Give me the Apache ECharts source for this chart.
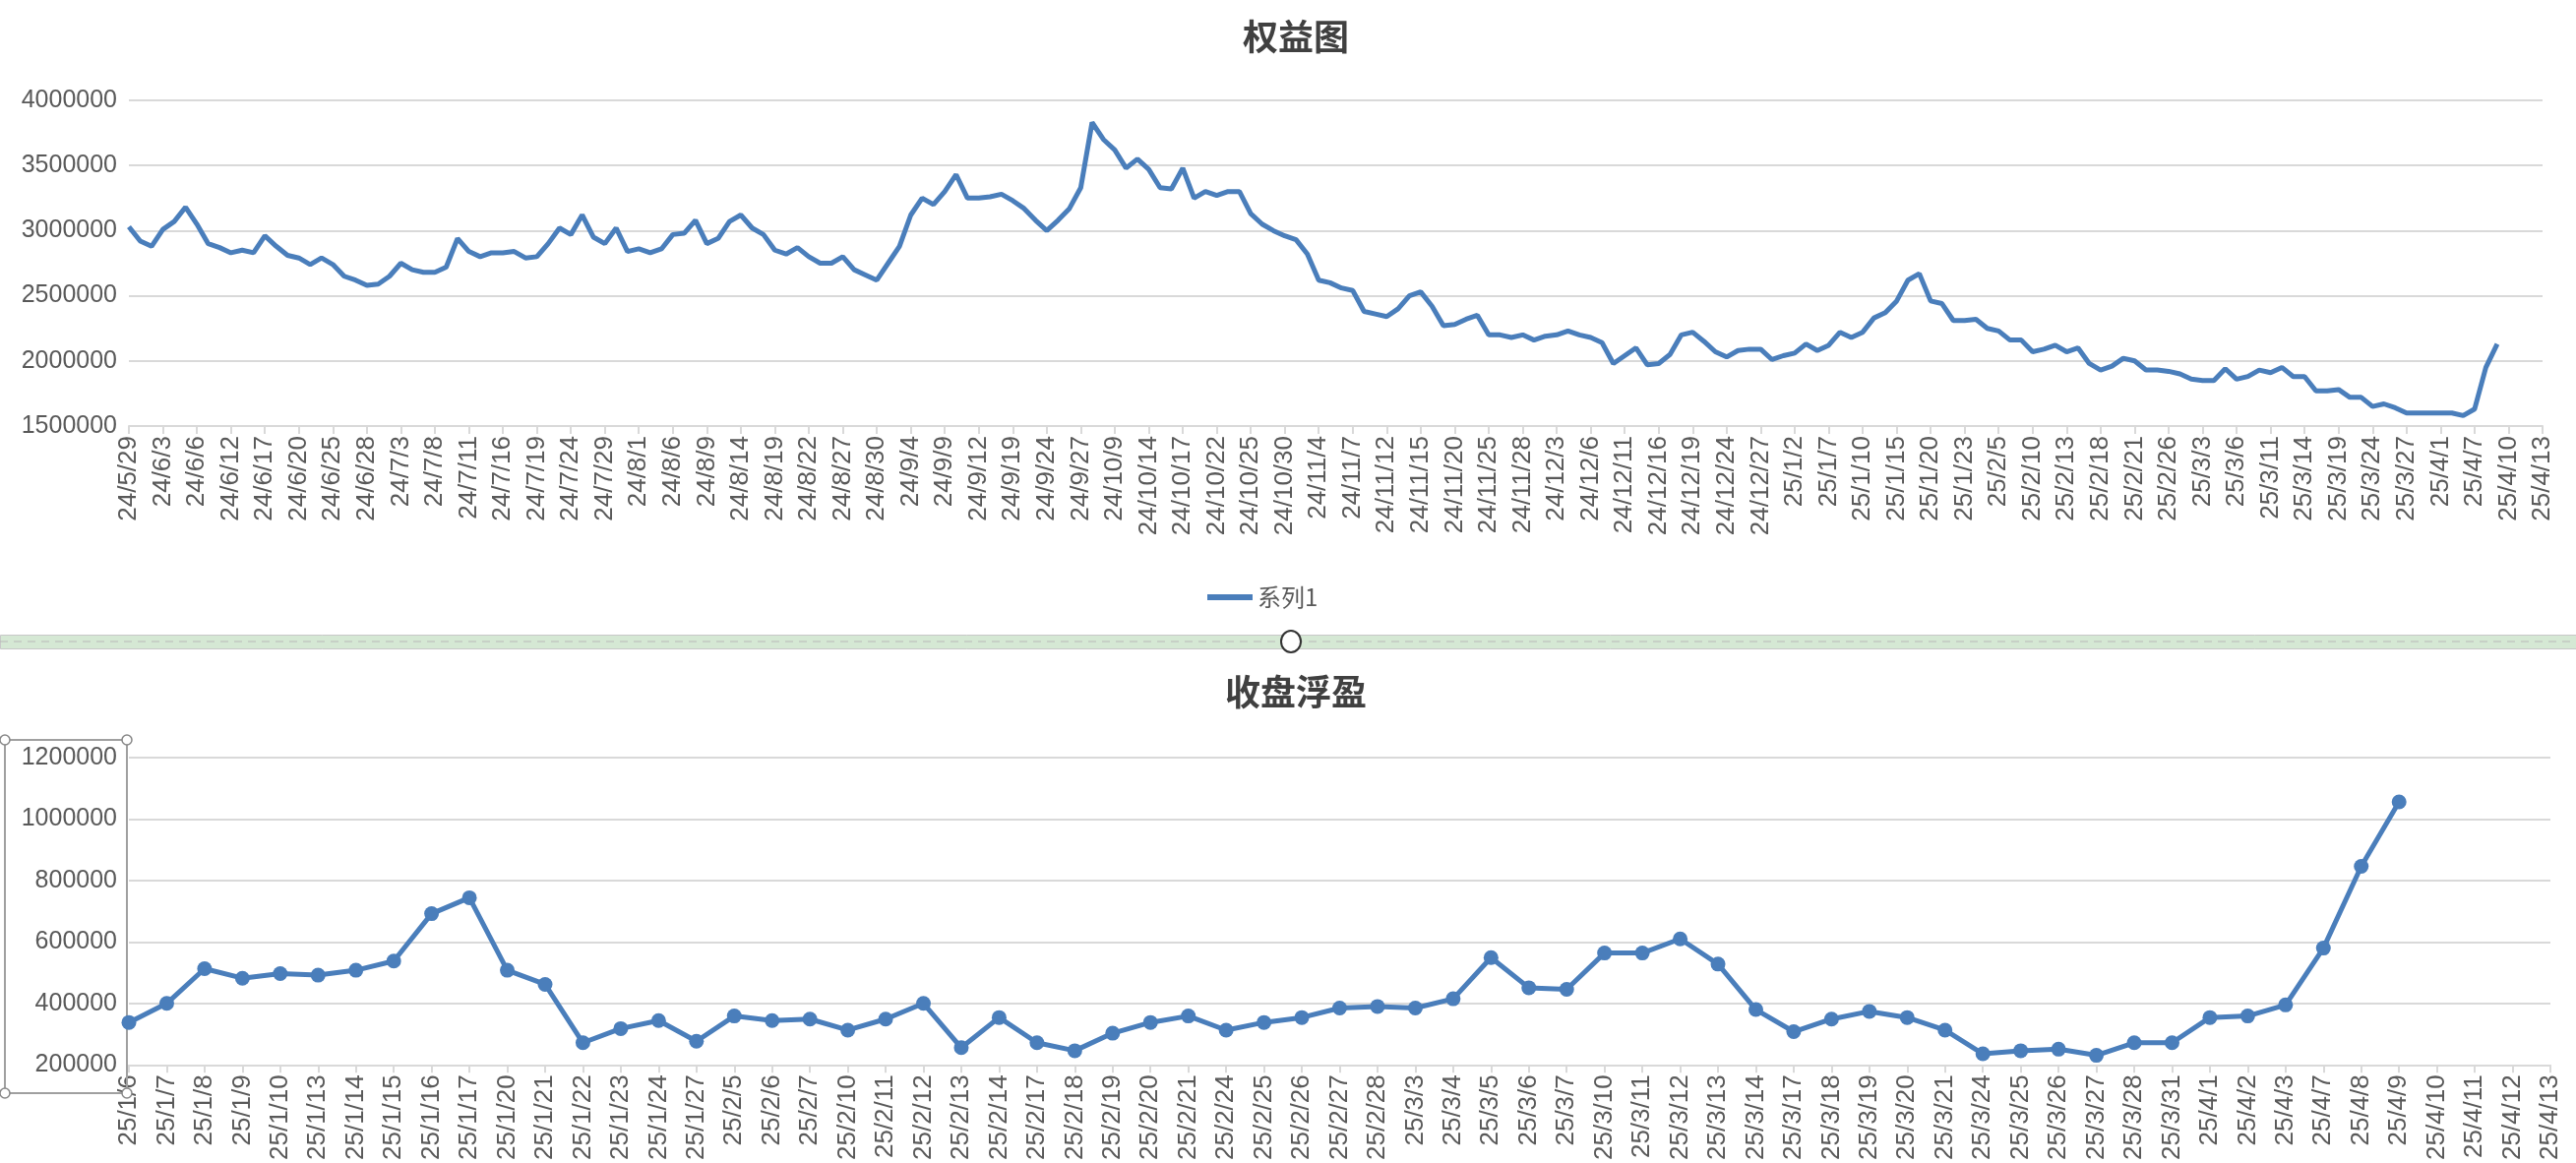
<!DOCTYPE html>
<html><head><meta charset="utf-8">
<script src="https://cdn.jsdelivr.net/npm/echarts@6/dist/echarts.min.js"></script>
<style>html,body{margin:0;padding:0;background:#fff}#c{width:2618px;height:1182px}</style>
</head><body><div id="c"></div>
<script>
// Top chart categories: trading days 2024-05-29 .. 2025-04-09, then calendar days to 04-13
const holidays = ['2024-06-10','2024-09-16','2024-09-17','2024-10-01','2024-10-02','2024-10-03','2024-10-04','2024-10-07','2025-01-01','2025-01-28','2025-01-29','2025-01-30','2025-01-31','2025-02-03','2025-02-04','2025-04-04'];
const extraDays = ['25/4/10','25/4/11','25/4/12','25/4/13'];
function tradingDays(start, end){
  const out=[]; const d=new Date(start+'T00:00:00Z'); const e=new Date(end+'T00:00:00Z');
  while(d<=e){
    const iso=d.toISOString().slice(0,10); const wd=d.getUTCDay();
    if(wd!==0&&wd!==6&&holidays.indexOf(iso)<0){
      out.push(String(d.getUTCFullYear()).slice(2)+'/'+(d.getUTCMonth()+1)+'/'+d.getUTCDate());
    }
    d.setUTCDate(d.getUTCDate()+1);
  }
  return out;
}
const equityDates = tradingDays('2024-05-29','2025-04-09').concat(extraDays);
const equityValues = [
3030000,2920000,2880000, 3010000,3070000,3180000, 3050000,2900000,2870000, 2830000,2850000,2830000,
2960000,2880000,2810000, 2790000,2740000,2790000, 2740000,2650000,2620000, 2580000,2590000,2650000,
2750000,2700000,2680000, 2680000,2720000,2940000, 2840000,2800000,2830000, 2830000,2840000,2790000,
2800000,2900000,3020000, 2970000,3120000,2950000, 2900000,3020000,2840000, 2860000,2830000,2860000,
2970000,2980000,3080000, 2900000,2940000,3070000, 3120000,3020000,2970000, 2850000,2820000,2870000,
2800000,2750000,2750000, 2800000,2700000,2660000, 2620000,2750000,2880000, 3120000,3250000,3200000,
3300000,3430000,3250000, 3250000,3260000,3280000, 3230000,3170000,3080000, 3000000,3080000,3170000,
3330000,3830000,3700000, 3620000,3480000,3550000, 3470000,3330000,3320000, 3480000,3250000,3300000,
3270000,3300000,3300000, 3130000,3050000,3000000, 2960000,2930000,2820000, 2620000,2600000,2560000,
2540000,2380000,2360000, 2340000,2400000,2500000, 2530000,2420000,2270000, 2280000,2320000,2350000,
2200000,2200000,2180000, 2200000,2160000,2190000, 2200000,2230000,2200000, 2180000,2140000,1980000,
2040000,2100000,1970000, 1980000,2050000,2200000, 2220000,2150000,2070000, 2030000,2080000,2090000,
2090000,2010000,2040000, 2060000,2130000,2080000, 2120000,2220000,2180000, 2220000,2330000,2370000,
2460000,2620000,2670000, 2460000,2440000,2310000, 2310000,2320000,2250000, 2230000,2160000,2160000,
2070000,2090000,2120000, 2070000,2100000,1980000, 1930000,1960000,2020000, 2000000,1930000,1930000,
1920000,1900000,1860000, 1850000,1850000,1940000, 1860000,1880000,1930000, 1910000,1950000,1880000,
1880000,1770000,1770000, 1780000,1720000,1720000, 1650000,1670000,1640000, 1600000,1600000,1600000,
1600000,1600000,1580000, 1630000,1950000,2130000];
const pnlDates = ['25/1/6','25/1/7','25/1/8','25/1/9','25/1/10','25/1/13','25/1/14','25/1/15','25/1/16','25/1/17','25/1/20','25/1/21','25/1/22','25/1/23','25/1/24','25/1/27','25/2/5','25/2/6','25/2/7','25/2/10','25/2/11','25/2/12','25/2/13','25/2/14','25/2/17','25/2/18','25/2/19','25/2/20','25/2/21','25/2/24','25/2/25','25/2/26','25/2/27','25/2/28','25/3/3','25/3/4','25/3/5','25/3/6','25/3/7','25/3/10','25/3/11','25/3/12','25/3/13','25/3/14','25/3/17','25/3/18','25/3/19','25/3/20','25/3/21','25/3/24','25/3/25','25/3/26','25/3/27','25/3/28','25/3/31','25/4/1','25/4/2','25/4/3','25/4/7','25/4/8','25/4/9','25/4/10','25/4/11','25/4/12','25/4/13'];
const pnlValues = [338000,400000,513000,482000,497000,492000,508000,538000,692000,744000,508000,462000,272000,318000,344000,277000,359000,344000,349000,313000,349000,400000,256000,354000,272000,246000,303000,338000,359000,313000,338000,354000,385000,390000,385000,415000,549000,451000,446000,564000,564000,610000,528000,380000,308000,349000,374000,354000,313000,236000,246000,251000,231000,272000,272000,354000,359000,395000,580000,846000,1056000];
const topTicks = {min:1500000,max:4000000,interval:500000};
const botTicks = {min:200000,max:1200000,interval:200000};

const chart = echarts.init(document.getElementById('c'));
const blue = '#4a7ebb';
const lab = {color:'#595959',fontSize:26,fontFamily:'Liberation Sans'};
const xCommon = {type:'category',boundaryGap:false,
  axisLine:{lineStyle:{color:'#d9d9d9',width:2}},
  axisTick:{show:true,lineStyle:{color:'#d9d9d9',width:2},length:8},
  axisLabel:Object.assign({rotate:90,margin:10},lab)};
const yCommon = {type:'value',axisLine:{show:false},axisTick:{show:false},
  splitLine:{lineStyle:{color:'#d9d9d9',width:2}},
  axisLabel:Object.assign({margin:12,formatter:function(v){return String(v);}},lab,{fontSize:25})};
chart.setOption({
  animation:false,
  backgroundColor:'#fff',
  title:[
    {text:'权益图',left:1312,top:14,textAlign:'center',textStyle:{fontSize:36,fontWeight:'bold',color:'#404040',fontFamily:'Noto Sans CJK SC'}},
    {text:'收盘浮盈',left:1312,top:680,textAlign:'center',textStyle:{fontSize:36,fontWeight:'bold',color:'#404040',fontFamily:'Noto Sans CJK SC'}}
  ],
  legend:{data:['系列1'],left:1312-90,top:590,icon:'rect',itemWidth:46,itemHeight:6,itemGap:10,
    textStyle:{color:'#595959',fontSize:24,fontFamily:'Noto Sans CJK SC'}},
  grid:[
    {left:131,right:34,top:102,height:331},
    {left:131,right:26,top:770,height:327}
  ],
  xAxis:[
    Object.assign({gridIndex:0,data:equityDates},xCommon,{axisLabel:Object.assign({},xCommon.axisLabel,{interval:2}),axisTick:Object.assign({},xCommon.axisTick,{interval:2})}),
    Object.assign({gridIndex:1,data:pnlDates},xCommon,{axisLabel:Object.assign({},xCommon.axisLabel,{interval:0}),axisTick:Object.assign({},xCommon.axisTick,{interval:0})})
  ],
  yAxis:[
    Object.assign({gridIndex:0},yCommon,topTicks),
    Object.assign({gridIndex:1},yCommon,botTicks)
  ],
  series:[
    {name:'系列1',type:'line',xAxisIndex:0,yAxisIndex:0,data:equityValues,showSymbol:false,symbol:'none',
      lineStyle:{color:blue,width:5},itemStyle:{color:blue}},
    {name:'收盘浮盈',type:'line',xAxisIndex:1,yAxisIndex:1,data:pnlValues,symbol:'circle',symbolSize:15,
      lineStyle:{color:blue,width:5},itemStyle:{color:blue}}
  ],
  graphic:[
    {type:'rect',left:0,top:645,shape:{width:2618,height:14},style:{fill:'#d5e8d4',stroke:'#c8c8c8',lineWidth:1},z:1},
    {type:'line',shape:{x1:0,y1:652,x2:2618,y2:652},style:{stroke:'#b8b8b8',lineWidth:1,lineDash:[8,6]},z:2},
    {type:'ellipse',shape:{cx:1312,cy:652,rx:10,ry:11},style:{fill:'#fff',stroke:'#333',lineWidth:2},z:3},
    {type:'rect',shape:{x:5,y:752,width:124,height:359},style:{fill:'none',stroke:'#a0a0a0',lineWidth:2},z:3},
    {type:'circle',shape:{cx:5,cy:752,r:5},style:{fill:'#fff',stroke:'#888',lineWidth:1.5},z:4},
    {type:'circle',shape:{cx:129,cy:752,r:5},style:{fill:'#fff',stroke:'#888',lineWidth:1.5},z:4},
    {type:'circle',shape:{cx:5,cy:1111,r:5},style:{fill:'#fff',stroke:'#888',lineWidth:1.5},z:4},
    {type:'circle',shape:{cx:129,cy:1111,r:5},style:{fill:'#fff',stroke:'#888',lineWidth:1.5},z:4}
  ]
});
</script></body></html>
